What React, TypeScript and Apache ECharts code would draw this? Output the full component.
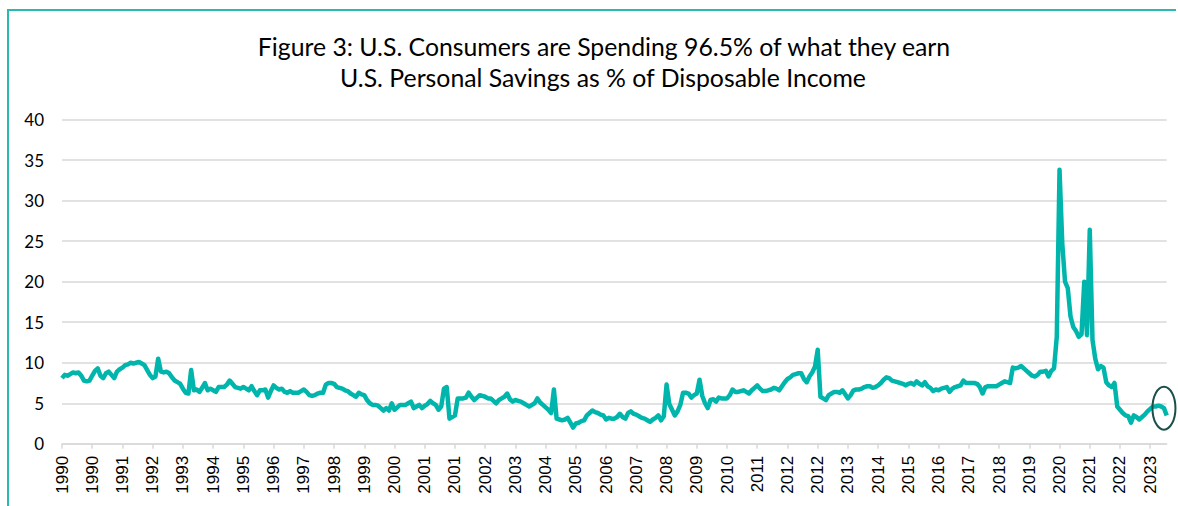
import React, { useEffect, useRef } from "react";
import * as echarts from "echarts";

const titleLine1 = "Figure 3: U.S. Consumers are Spending 96.5% of what they earn";
const titleLine2 = "U.S. Personal Savings as % of Disposable Income";

const startYear = 1990;

// Monthly personal saving rate (%)
const s1990 = [8.1, 8.5, 8.4, 8.6, 8.8, 8.7, 8.8, 8.4, 7.8, 7.7, 7.8, 8.4];
const s1991 = [9.0, 9.3, 8.4, 8.1, 8.7, 8.9, 8.5, 8.1, 8.9, 9.2, 9.4, 9.7];
const s1992 = [9.8, 10.0, 9.9, 10.0, 10.1, 9.9, 9.7, 9.1, 8.5, 8.1, 8.3, 10.5];
const s1993 = [8.9, 8.8, 8.9, 8.7, 8.2, 7.8, 7.6, 7.4, 6.8, 6.3, 6.2, 9.1];
const s1994 = [6.6, 6.7, 6.4, 6.9, 7.5, 6.6, 6.8, 6.6, 6.4, 7.0, 7.0, 7.0];
const s1995 = [7.3, 7.8, 7.4, 7.0, 6.9, 6.8, 7.0, 6.8, 6.6, 7.1, 6.5, 6.0];
const s1996 = [6.6, 6.6, 6.7, 5.7, 6.5, 7.2, 6.9, 6.7, 6.8, 6.4, 6.3, 6.5];
const s1997 = [6.3, 6.3, 6.3, 6.5, 6.7, 6.4, 6.0, 5.9, 6.0, 6.2, 6.3, 6.3];
const s1998 = [7.3, 7.5, 7.5, 7.4, 7.0, 6.9, 6.8, 6.6, 6.5, 6.2, 6.0, 5.8];
const s1999 = [6.3, 6.1, 6.0, 5.4, 5.0, 4.8, 4.8, 4.7, 4.4, 4.1, 4.4, 4.1];
const s2000 = [5.0, 4.2, 4.5, 4.8, 4.8, 4.8, 5.0, 5.2, 4.4, 4.6, 4.8, 4.4];
const s2001 = [4.7, 4.9, 5.3, 5.0, 4.8, 4.2, 4.6, 6.8, 7.0, 3.1, 3.3, 3.5];
const s2002 = [5.6, 5.6, 5.6, 5.7, 6.3, 5.8, 5.4, 5.7, 6.0, 5.9, 5.8, 5.6];
const s2003 = [5.6, 5.3, 5.0, 5.4, 5.6, 5.8, 6.2, 5.5, 5.2, 5.4, 5.3, 5.2];
const s2004 = [5.0, 4.8, 4.6, 4.8, 5.0, 5.6, 5.1, 4.8, 4.5, 4.2, 3.8, 6.7];
const s2005 = [3.1, 3.0, 2.9, 3.0, 3.2, 2.6, 2.0, 2.5, 2.6, 2.8, 2.9, 3.5];
const s2006 = [3.8, 4.1, 3.9, 3.8, 3.6, 3.5, 3.0, 3.2, 3.1, 3.1, 3.3, 3.7];
const s2007 = [3.3, 3.1, 3.8, 4.0, 3.7, 3.6, 3.4, 3.2, 3.1, 2.9, 2.7, 3.0];
const s2008 = [3.2, 3.5, 2.9, 3.4, 7.3, 4.9, 4.2, 3.5, 4.0, 4.8, 6.3, 6.3];
const s2009 = [6.2, 5.7, 6.0, 6.2, 7.9, 5.9, 5.0, 4.4, 5.4, 5.5, 5.2, 5.7];
const s2010 = [5.6, 5.6, 5.6, 6.0, 6.7, 6.4, 6.4, 6.5, 6.6, 6.4, 6.2, 6.6];
const s2011 = [6.9, 7.2, 6.8, 6.5, 6.5, 6.6, 6.7, 6.9, 6.8, 6.6, 7.1, 7.6];
const s2012 = [8.0, 8.2, 8.5, 8.6, 8.7, 8.7, 8.0, 7.6, 8.3, 8.8, 9.5, 11.6];
const s2013 = [5.8, 5.6, 5.4, 6.0, 6.2, 6.4, 6.4, 6.3, 6.6, 6.1, 5.6, 6.0];
const s2014 = [6.6, 6.7, 6.7, 6.8, 7.0, 7.1, 7.1, 6.9, 7.0, 7.2, 7.5, 7.9];
const s2015 = [8.2, 8.1, 7.8, 7.7, 7.6, 7.5, 7.4, 7.2, 7.4, 7.5, 7.3, 7.7];
const s2016 = [7.4, 7.2, 7.6, 7.1, 6.9, 6.5, 6.7, 6.6, 6.8, 6.9, 7.0, 6.4];
const s2017 = [6.8, 7.0, 7.1, 7.2, 7.8, 7.5, 7.5, 7.5, 7.5, 7.4, 7.0, 6.2];
const s2018 = [7.0, 7.1, 7.1, 7.1, 7.1, 7.3, 7.5, 7.7, 7.6, 7.5, 9.4, 9.3];
const s2019 = [9.4, 9.6, 9.3, 9.0, 8.7, 8.4, 8.3, 8.5, 8.9, 8.9, 9.0, 8.3];
const s2020 = [9.0, 9.3, 13.2, 33.8, 24.7, 20.0, 19.2, 15.7, 14.4, 13.9, 13.2, 13.5];
const s2021 = [20.0, 13.4, 26.4, 12.8, 10.5, 9.2, 9.6, 9.4, 7.6, 7.2, 7.0, 7.5];
const s2022 = [4.6, 4.2, 3.8, 3.5, 3.4, 2.6, 3.5, 3.3, 3.0, 3.3, 3.6, 4.0];
const s2023 = [4.3, 4.6, 4.6, 4.7, 4.6, 4.4, 3.5];

const yTicks = [0, 5, 10, 15, 20, 25, 30, 35, 40];

// Point circled in the reference (near the latest reading)
const circledIndex = 401;
const circledValue = 4.4;

const savings: number[] = [
  ...s1990, ...s1991, ...s1992, ...s1993, ...s1994, ...s1995, ...s1996,
  ...s1997, ...s1998, ...s1999, ...s2000, ...s2001, ...s2002, ...s2003,
  ...s2004, ...s2005, ...s2006, ...s2007, ...s2008, ...s2009, ...s2010,
  ...s2011, ...s2012, ...s2013, ...s2014, ...s2015, ...s2016, ...s2017,
  ...s2018, ...s2019, ...s2020, ...s2021, ...s2022, ...s2023,
];

const months: string[] = savings.map((_, i) => {
  const y = startYear + Math.floor(i / 12);
  const m = (i % 12) + 1;
  return `${y}-${m < 10 ? "0" + m : m}`;
});

const TEAL = "#00b5ab";
const BORDER = "#2bb8b0";

export default function App() {
  const ref = useRef<HTMLDivElement>(null);

  useEffect(() => {
    if (!ref.current) return;
    const chart = echarts.init(ref.current, null, { renderer: "svg" });
    chart.setOption({
      animation: false,
      backgroundColor: "#ffffff",
      title: [
        {
          text: titleLine1,
          left: 599,
          textAlign: "center",
          top: 29,
          textStyle: { fontFamily: "Lato", fontSize: 24.8, fontWeight: "normal", color: "#000" },
        },
        {
          text: titleLine2,
          left: 598,
          textAlign: "center",
          top: 60,
          textStyle: { fontFamily: "Lato", fontSize: 24.8, fontWeight: "normal", color: "#000" },
        },
      ],
      grid: { left: 62, right: 11.3, top: 119.5, bottom: 62.2, containLabel: false },
      xAxis: {
        type: "category",
        data: months,
        boundaryGap: false,
        axisLine: { show: true, lineStyle: { color: "#d9d9d9", width: 1.5 } },
        axisTick: { show: true, interval: 10, length: 5, lineStyle: { color: "#d9d9d9", width: 1.5 } },
        axisLabel: {
          interval: 10,
          rotate: 90,
          margin: 12,
          fontFamily: "Liberation Sans",
          fontSize: 17,
          color: "#000",
          formatter: (v: string) => v.slice(0, 4),
        },
        splitLine: { show: false },
      },
      yAxis: {
        type: "value",
        min: yTicks[0],
        max: yTicks[yTicks.length - 1],
        interval: 5,
        axisLine: { show: false },
        axisTick: { show: false },
        axisLabel: { fontFamily: "Lato", fontSize: 17, color: "#000", margin: 18 },
        splitLine: { lineStyle: { color: "#d9d9d9", width: 1.5 } },
      },
      series: [
        {
          type: "line",
          data: savings,
          symbol: "none",
          lineStyle: { color: TEAL, width: 4.5, join: "round" },
          itemStyle: { color: TEAL },
        },
      ],
    });
    const p = chart.convertToPixel({ gridIndex: 0 }, [circledIndex, circledValue]) as number[];
    chart.setOption({
      graphic: [
        {
          type: "ellipse",
          shape: { cx: p[0], cy: p[1], rx: 11.5, ry: 21.5 },
          style: { fill: "none", stroke: "#1b4f4a", lineWidth: 2 },
          z: 100,
        },
      ],
    });
    return () => chart.dispose();
  }, []);

  return (
    <div style={{ position: "absolute", left: 0, top: 0, width: 1178, height: 506, overflow: "hidden", background: "#fff" }}>
      <div ref={ref} style={{ position: "absolute", left: 0, top: 0, width: 1178, height: 506 }} />
      <div style={{ position: "absolute", left: 7, top: 9, width: 2, height: 497, background: BORDER }} />
      <div style={{ position: "absolute", left: 7, top: 9, width: 1169, height: 2, background: BORDER }} />
    </div>
  );
}
